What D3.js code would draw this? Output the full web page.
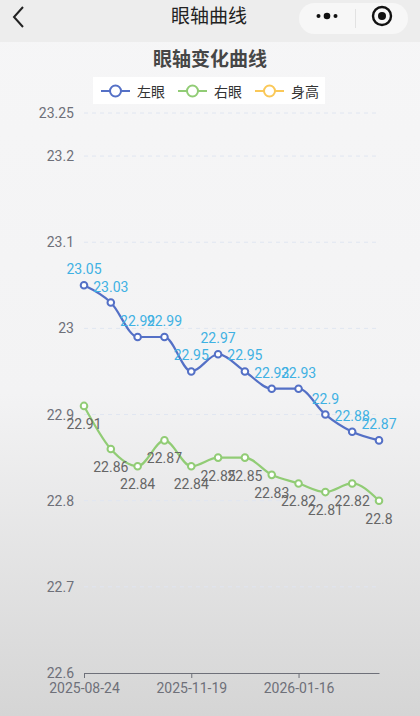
<!DOCTYPE html>
<html>
<head>
<meta charset="utf-8">
<script src="https://cdn.jsdelivr.net/npm/d3@7"></script>
<style>
  html, body { margin: 0; padding: 0; }
  body {
    width: 420px; height: 716px; overflow: hidden;
    background: linear-gradient(to bottom, #f6f6f7 0%, #f3f3f4 55%, #d5d5d5 100%);
    font-family: Roboto, "Noto Sans CJK SC", sans-serif;
  }
</style>
</head>
<body>
<div id="chart"></div>
<script>
// chart data
let dates = ["2025-08-24", "2025-09-15", "2025-10-08", "2025-10-29", "2025-11-19", "2025-12-03",
  "2025-12-17", "2026-01-01", "2026-01-16", "2026-02-01", "2026-02-15", "2026-03-01"];
let leftEye = [23.05, 23.03, 22.99, 22.99, 22.95, 22.97, 22.95, 22.93, 22.93, 22.9, 22.88, 22.87];
let rightEye = [22.91, 22.86, 22.84, 22.87, 22.84, 22.85, 22.85, 22.83, 22.82, 22.81, 22.82, 22.8];
let height = [];
let yTicks = [22.6, 22.7, 22.8, 22.9, 23, 23.1, 23.2, 23.25];
let seriesNames = ["左眼", "右眼", "身高"];
let seriesColors = ["#5470c6", "#91cc75", "#fac858"];

let W = 420, H = 716;
let svg = d3.select("#chart").append("svg").attr("width", W).attr("height", H);

// Section 1: fake mini program nav bar
svg.append("rect").attr("x", 0).attr("y", 0).attr("width", W).attr("height", 42).attr("fill", "#ededed");
svg.append("path")
  .attr("d", "M23,7 L14,17 L23,27")
  .attr("fill", "none").attr("stroke", "#222").attr("stroke-width", 2);
svg.append("text")
  .attr("x", 209).attr("y", 23)
  .attr("text-anchor", "middle")
  .attr("font-family", "'Noto Sans CJK SC', sans-serif")
  .attr("font-size", 19).attr("fill", "#222")
  .text("眼轴曲线");

// capsule button
svg.append("rect")
  .attr("x", 299).attr("y", 3).attr("width", 109).attr("height", 31).attr("rx", 15.5)
  .attr("fill", "#f7f7f7");
svg.append("line").attr("x1", 355.5).attr("x2", 355.5).attr("y1", 9).attr("y2", 28)
  .attr("stroke", "#e2e2e2").attr("stroke-width", 1);
[[-8.5, 2], [0, 3.3], [8.5, 2]].forEach(function(p) {
  svg.append("circle").attr("cx", 327 + p[0]).attr("cy", 16).attr("r", p[1]).attr("fill", "#111");
});
svg.append("circle").attr("cx", 382).attr("cy", 16).attr("r", 9).attr("fill", "none")
  .attr("stroke", "#111").attr("stroke-width", 2.4);
svg.append("circle").attr("cx", 382).attr("cy", 16).attr("r", 4).attr("fill", "#111");

// Section 2: title and legend
svg.append("text")
  .attr("x", 210).attr("y", 66)
  .attr("text-anchor", "middle")
  .attr("font-family", "'Noto Sans CJK SC', sans-serif")
  .attr("font-weight", "bold")
  .attr("font-size", 19).attr("fill", "#464646")
  .text("眼轴变化曲线");

svg.append("rect").attr("x", 93).attr("y", 77).attr("width", 232).attr("height", 27).attr("fill", "#ffffff");

let legendX = [101, 178, 255];
seriesNames.forEach(function(name, i) {
  let g = svg.append("g").attr("transform", "translate(" + legendX[i] + ",91)");
  g.append("line").attr("x1", 0).attr("x2", 29).attr("y1", 0).attr("y2", 0)
    .attr("stroke", seriesColors[i]).attr("stroke-width", 2);
  g.append("circle").attr("cx", 14.5).attr("cy", 0).attr("r", 5.5)
    .attr("fill", "#fff").attr("stroke", seriesColors[i]).attr("stroke-width", 2);
  g.append("text").attr("x", 36).attr("y", 5.5)
    .attr("font-family", "'Noto Sans CJK SC', sans-serif")
    .attr("font-size", 14).attr("fill", "#333")
    .text(name);
});

// Section 3: scales and axes
let xScale = d3.scalePoint().domain(dates).range([84, 379]);
let yScale = d3.scaleLinear().domain([22.6, 23.25]).range([673, 113]);

// dashed grid lines
svg.append("g").selectAll("line")
  .data(yTicks.slice(1))
  .enter().append("line")
  .attr("x1", 84).attr("x2", 379)
  .attr("y1", function(d) { return yScale(d); })
  .attr("y2", function(d) { return yScale(d); })
  .attr("stroke", "#e0e6f1").attr("stroke-dasharray", "4,4");

let yAxis = d3.axisLeft(yScale).tickValues(yTicks).tickSize(0).tickPadding(10)
  .tickFormat(function(d) { return String(+d.toFixed(2)); });
let yG = svg.append("g").attr("transform", "translate(84,0)").call(yAxis);
yG.select(".domain").remove();
yG.selectAll("text").attr("fill", "#6e7079").attr("font-size", 14).attr("font-family", "Roboto, sans-serif");

let xAxis = d3.axisBottom(xScale)
  .tickValues(dates.filter(function(d, i) { return i % 4 === 0; }))
  .tickSize(5).tickSizeOuter(0).tickPadding(5);
let xG = svg.append("g").attr("transform", "translate(0,673)").call(xAxis);
xG.select(".domain").attr("stroke", "#6e7079").attr("stroke-width", 1.2);
xG.selectAll(".tick line").attr("stroke", "#6e7079");
xG.selectAll("text").attr("fill", "#6e7079").attr("font-size", 14).attr("font-family", "Roboto, sans-serif");

// Section 4: the lines
let line = d3.line()
  .x(function(d, i) { return xScale(dates[i]); })
  .y(function(d) { return yScale(d); })
  .curve(d3.curveMonotoneX);

function drawSeries(values, color, labelColor, labelDy) {
  if (!values.length) return;
  svg.append("path").datum(values)
    .attr("d", line)
    .attr("fill", "none").attr("stroke", color).attr("stroke-width", 2.2);
  let g = svg.append("g");
  g.selectAll("circle").data(values).enter().append("circle")
    .attr("cx", function(d, i) { return xScale(dates[i]); })
    .attr("cy", function(d) { return yScale(d); })
    .attr("r", 3.3)
    .attr("fill", "#fff").attr("stroke", color).attr("stroke-width", 2);
  g.selectAll("text").data(values).enter().append("text")
    .attr("x", function(d, i) { return xScale(dates[i]); })
    .attr("y", function(d) { return yScale(d) + labelDy; })
    .attr("text-anchor", "middle")
    .attr("font-size", 14).attr("font-family", "Roboto, sans-serif")
    .attr("fill", labelColor)
    .text(function(d) { return String(d); });
}

drawSeries(rightEye, seriesColors[1], "#666666", 23);
drawSeries(leftEye, seriesColors[0], "#3fb1e3", -11);
drawSeries(height, seriesColors[2], "#666666", -11);
</script>
</body>
</html>
